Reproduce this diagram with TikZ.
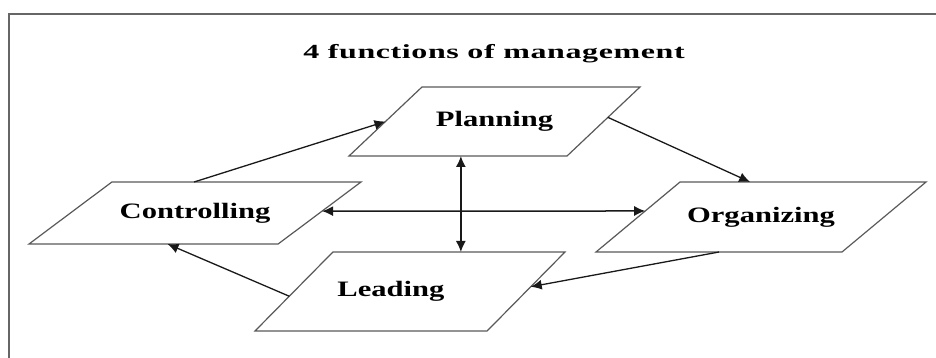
\documentclass[tikz,border=0pt]{standalone}
\usepackage{fontspec}
\newfontfamily\boxfont{Liberation Serif}[FakeStretch=1.39]
\newfontfamily\titlefont{Liberation Serif}[FakeStretch=1.6,LetterSpace=3]
\usetikzlibrary{shapes.geometric,arrows.meta,calc}
\begin{document}
\begin{tikzpicture}[x=1pt,y=-1pt,
    funcbox/.style={draw=black!65, line width=1.2pt, trapezium, trapezium stretches body,
      text height=15pt, text depth=5pt, inner xsep=0pt, outer sep=0pt,
      font=\boxfont\bfseries\fontsize{22pt}{26pt}\selectfont},
    flow/.style={-{Latex[length=11pt,width=10pt]}, line width=1.3pt, black!90},
    both/.style={{Latex[length=11pt,width=10pt]}-{Latex[length=11pt,width=10pt]}, line width=1.5pt, black!90}]
    \useasboundingbox (0,0) rectangle (936,358);
    \draw[black!60, line width=1.4pt] (9,370) -- (9,14) -- (940,14); % moldura

    \node[font=\titlefont\bfseries\fontsize{20pt}{24pt}\selectfont] (title) at (494,54) {4 functions of management};

    % As quatro caixas (altura = 20pt + 2*inner ysep)
    \node[funcbox, trapezium left angle=43.4, trapezium right angle=136.6,
      minimum width=291pt, inner ysep=24.5pt] (plan) at (494.5,121.5) {Planning};
    \node[funcbox, trapezium left angle=36.8, trapezium right angle=143.2,
      minimum width=332pt, inner ysep=21pt] (ctl) at (195,213) {Controlling};
    \node[funcbox, trapezium left angle=45.4, trapezium right angle=134.6,
      minimum width=310pt, inner ysep=29.5pt] (lead) at (410,291.5) {Leading\hspace*{38pt}};
    \node[funcbox, trapezium left angle=39.8, trapezium right angle=140.2,
      minimum width=330pt, inner ysep=25pt] (org) at (761,217) {Organizing};

    % Ciclo
    \draw[flow] ($(ctl.top left corner)!0.33!(ctl.top right corner)$) -- (plan.left side);
    \draw[flow] ($(plan.bottom right corner)!0.56!(plan.top right corner)$)
      -- ($(org.top left corner)!0.285!(org.top right corner)$);
    \draw[flow] (org.bottom side) -- ($(lead.bottom right corner)!0.56!(lead.top right corner)$);
    \draw[flow] ($(lead.bottom left corner)!0.44!(lead.top left corner)$)
      -- ($(ctl.bottom left corner)!0.556!(ctl.bottom right corner)$);

    % Setas duplas
    \coordinate (vtop) at ($(plan.bottom left corner)!0.513!(plan.bottom right corner)$);
    \draw[both] (vtop) -- (vtop |- lead.north);
    \draw[both] ($(ctl.bottom right corner)!0.53!(ctl.top right corner)$)
      -- ($(org.bottom left corner)!0.586!(org.top left corner)$);
\end{tikzpicture}
\end{document}
